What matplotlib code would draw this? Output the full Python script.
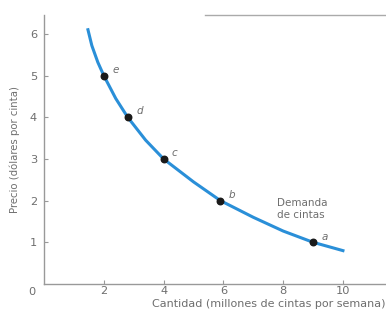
import matplotlib
import matplotlib.pyplot as plt
from matplotlib.lines import Line2D

matplotlib.use("Agg")

# Curve (quantity in millions, price in dollars)
curve_q = [1.47, 1.6, 1.8, 2.0, 2.4, 2.8, 3.4, 4.0, 5.0, 5.9, 7.0, 8.0, 9.0, 10.0]
curve_p = [6.1, 5.72, 5.32, 5.0, 4.45, 4.0, 3.45, 3.0, 2.45, 2.0, 1.6, 1.27, 1.0, 0.8]

# Labelled points
pt_names = ["a", "b", "c", "d", "e"]
pt_q = [9.0, 5.9, 4.0, 2.8, 2.0]
pt_p = [1.0, 2.0, 3.0, 4.0, 5.0]

x_ticks = [2, 4, 6, 8, 10]
y_ticks = [1, 2, 3, 4, 5, 6]

gray = "#6e6e6e"
blue = "#2a8fd8"

fig = plt.figure(figsize=(3.86, 3.09), dpi=100)
ax = fig.add_axes([0.114, 0.081, 0.886, 0.870])

ax.plot(curve_q, curve_p, color=blue, linewidth=2.2, solid_joinstyle="round", zorder=2)
ax.scatter(pt_q, pt_p, s=22, color="#1a1a1a", zorder=3)
for n, q, p in zip(pt_names, pt_q, pt_p):
    ax.annotate(n, (q, p), xytext=(6, 2), textcoords="offset points",
                fontsize=7.5, style="italic", color=gray)

ax.text(7.8, 1.8, "Demanda\nde cintas", fontsize=7.5, color=gray,
        va="center", ha="left", linespacing=1.2)

ax.set_xlim(0, 11.44)
ax.set_ylim(0, 6.45)
ax.set_xticks(x_ticks)
ax.set_yticks(y_ticks)
ax.tick_params(direction="in", length=3, width=0.8, colors="#999999",
               labelcolor=gray, labelsize=8.2)
ax.tick_params(axis="x", pad=1.5)
ax.tick_params(axis="y", pad=5)
for side in ["top", "right"]:
    ax.spines[side].set_visible(False)
for side in ["left", "bottom"]:
    ax.spines[side].set_color("#999999")
    ax.spines[side].set_linewidth(1.0)

ax.text(-0.3, -0.08, "0", fontsize=8.2, color=gray, ha="right", va="top")

ax.set_ylabel("Precio (dólares por cinta)", fontsize=7.3, color=gray, labelpad=7)
fig.text(0.999, 0.0, "Cantidad (millones de cintas por semana)", fontsize=8.0,
         color=gray, ha="right", va="bottom")

# thin rule at top right
fig.add_artist(Line2D([0.53, 1.0], [0.951, 0.951], color="#aaaaaa", linewidth=1.0))

fig.savefig("out.png", dpi=100)
